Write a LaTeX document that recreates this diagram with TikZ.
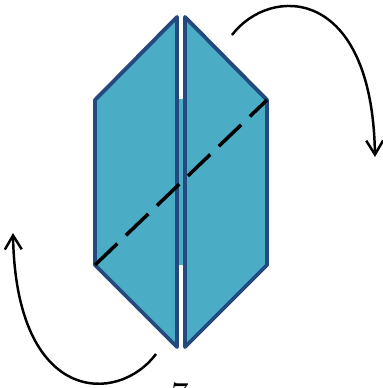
\documentclass[tikz,border=0pt]{standalone}
\usetikzlibrary{arrows.meta}
\definecolor{panel}{RGB}{75,172,198}
\definecolor{rim}{RGB}{36,73,126}
\tikzset{
	half/.style = {fill=panel, draw=rim, line width=1.1pt, line join=round},
	fold/.style = {line width=1pt, dash pattern=on 8.8pt off 3.4pt},
	turn/.style = {line width=0.7pt, -{Straight Barb[length=4pt,width=4.8pt]}}
}
\begin{document}
\begin{tikzpicture}[x = 0.01cm, y = -0.01cm]
		\useasboundingbox (0,0) rectangle (383,388);
		\fill[panel] (177,99) rectangle (185,265);
		\draw[half] (177,17) -- (95,100) -- (95,265) -- (177,347) -- cycle;
		\draw[half] (185,17) -- (267,100) -- (267,265) -- (185,347) -- cycle;
		\draw[fold] (95,265) -- (267,100);
		\coordinate (topstart) at (232,35);
		\coordinate (topend) at (375,157);
		\coordinate (botstart) at (156,354);
		\coordinate (botend) at (13,233);
		\draw[turn] (topstart) .. controls (270,-15) and (372,-15) .. (topend);
		\draw[turn] (botstart) .. controls (118,405) and (16,405) .. (botend);
		\node[anchor=north, inner sep=0] (num) at (180,382) {7};
	\end{tikzpicture}
\end{document}
